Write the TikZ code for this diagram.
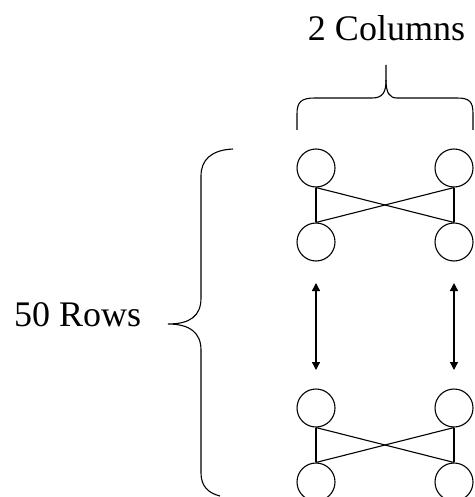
\documentclass[tikz,border=0pt]{standalone}
\usepackage{fontspec}
\setmainfont{Liberation Serif}
\usetikzlibrary{arrows.meta}
\begin{document}
\begin{tikzpicture}[x=1pt,y=-1pt,
  cell/.style={draw, circle, minimum size=38pt, inner sep=0pt, line width=1.1pt},
  wire/.style={line width=1.1pt},
  brace/.style={line width=1.1pt},
  label/.style={font=\fontsize{36}{40}\selectfont, inner sep=0pt},
  link/.style={line width=1.3pt, {Triangle[width=8pt,length=8pt]}-{Triangle[width=8pt,length=8pt]}}]
  \useasboundingbox (0,0) rectangle (474,497);
  \clip (0,0) rectangle (474,497);

  % labels
  \node[label, anchor=base] (cols) at (386.5,41) {2 Columns};
  \node[label, anchor=base west] (rows) at (14,326) {50 Rows};

  % upper block of four cells
  \node[cell] (a1) at (316,168) {};
  \node[cell] (a2) at (454,168) {};
  \node[cell] (a3) at (316,242) {};
  \node[cell] (a4) at (454,242) {};
  \draw[wire] (a1.south) -- (a3.north);
  \draw[wire] (a2.south) -- (a4.north);
  \draw[wire] (a1.south) -- (a4.north);
  \draw[wire] (a2.south) -- (a3.north);

  % lower block of four cells
  \node[cell] (b1) at (316,408) {};
  \node[cell] (b2) at (454,408) {};
  \node[cell] (b3) at (316,482) {};
  \node[cell] (b4) at (454,482) {};
  \draw[wire] (b1.south) -- (b3.north);
  \draw[wire] (b2.south) -- (b4.north);
  \draw[wire] (b1.south) -- (b4.north);
  \draw[wire] (b2.south) -- (b3.north);

  % links between the blocks
  \coordinate (la) at (316,283);
  \coordinate (lb) at (316,370);
  \coordinate (ra) at (454,283);
  \coordinate (rb) at (454,370);
  \draw[link] (la) -- (lb);
  \draw[link] (ra) -- (rb);

  % brace over the columns
  \draw[brace] (297,130) -- (297,114)
    .. controls (297,102) and (301,98) .. (315,98) -- (372,98)
    .. controls (383,98) and (386,92) .. (386,80) -- (386,65);
  \draw[brace] (473,130) -- (473,114)
    .. controls (473,102) and (470,98) .. (457,98) -- (397,98)
    .. controls (389,98) and (386,92) .. (386,80);

  % brace beside the rows
  \draw[brace] (233,149) .. controls (211,150) and (201,160) .. (201,176)
    -- (201,298) .. controls (201,316) and (190,324) .. (168,324)
    .. controls (190,324) and (201,333) .. (201,350)
    -- (201,473) .. controls (201,486) and (208,493) .. (220,496);
\end{tikzpicture}
\end{document}
